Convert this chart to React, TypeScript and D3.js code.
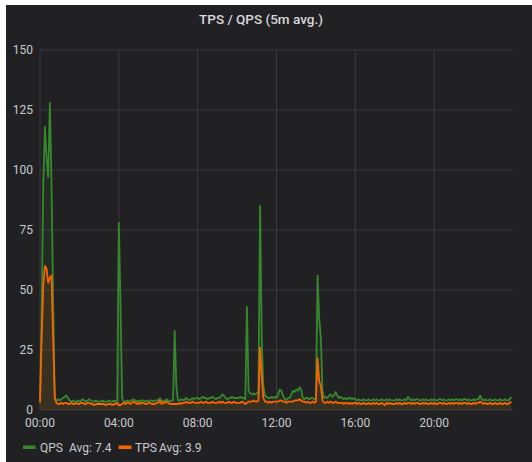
import * as d3 from "d3";

const hourTicks = [0, 4, 8, 12, 16, 20];
const hourLabels = ["00:00", "04:00", "08:00", "12:00", "16:00", "20:00"];
const yTicks = [0, 25, 50, 75, 100, 125, 150];

// 5m samples, one row per hour (00:00 .. 23:55)
const qpsRows = [
  [4, 40, 95, 118, 105, 97, 128, 95, 45, 5, 4, 4.5],
  [4, 4.5, 5, 5.5, 6, 5, 4, 3.5, 4, 3.5, 3.5, 4],
  [3.5, 4, 4.5, 4, 3.5, 4, 4.5, 4, 3.5, 3.5, 4, 3.5],
  [3.5, 3.5, 4, 3.5, 3.5, 3.5, 4, 3.5, 3.5, 4, 3.5, 4],
  [78, 45, 5, 3.5, 3.5, 4, 3.5, 4, 4, 4.5, 4, 3.5],
  [4, 3.5, 4, 4, 3.5, 4, 3.5, 4, 4, 3.5, 4, 4],
  [4, 5, 3.5, 4, 3.5, 4.5, 4, 3.5, 4, 4, 33, 10],
  [4, 4, 4.5, 4, 4.5, 5, 4.5, 4, 4.5, 5, 4.5, 5],
  [5, 4.5, 5, 5.5, 5, 5, 4.5, 5, 5, 5.5, 5, 4.5],
  [5, 5, 5.5, 6.5, 6, 5, 4.5, 5, 5, 5.5, 5, 5],
  [5, 5, 5.5, 5, 5, 4.5, 43, 8, 7, 6.5, 7, 6.5],
  [7, 7.5, 85, 30, 10, 6, 5.5, 5, 5, 5.5, 5, 5.5],
  [5, 6.5, 8.5, 8, 6, 4.5, 4.2, 5, 5, 6.5, 8, 7.5],
  [8.5, 8, 9.5, 8.5, 5, 4.5, 5, 5, 4.5, 5, 5, 4.5],
  [5, 56, 38, 30, 8, 5, 5.5, 5, 6, 6.5, 5.5, 6],
  [7.5, 6, 5, 5.5, 5, 4.5, 5, 4.5, 5, 5, 4.5, 5],
  [4.5, 4, 4.5, 4, 4, 4.5, 4, 4, 4.5, 4, 4, 4.5],
  [4, 4.5, 4, 4, 4.5, 4, 4, 4.5, 4, 4.5, 4, 4],
  [4, 4.5, 4, 4.5, 4, 4, 4.5, 4, 5.5, 4.5, 4, 4.5],
  [4, 4.5, 4.5, 4, 4, 4.5, 4, 4.5, 4, 4, 4.5, 4],
  [4.5, 4, 4, 4.5, 4.5, 4, 4.5, 4, 4, 4.5, 4, 4.5],
  [4, 4.5, 4.5, 4, 4.5, 4, 4.5, 4.5, 4, 4.5, 4, 4],
  [4.5, 4, 4.5, 4.5, 6, 4.5, 4, 4.5, 4, 4, 4.5, 4],
  [4, 4.5, 4, 4, 4.5, 4, 4, 4.5, 4, 4, 4.5, 5.5],
];

const tpsRows = [
  [3, 30, 52, 60, 59, 53, 55, 56, 30, 5, 3, 2.5],
  [2.5, 3, 2.5, 3, 3, 2.5, 2.5, 3, 2.5, 2.5, 3, 2.5],
  [2.5, 3, 3, 2.5, 2.5, 3, 3, 2.5, 2.5, 2, 2.5, 2.5],
  [2.5, 2.5, 2.5, 2.5, 2, 2.5, 2.5, 2.5, 2, 2.5, 2.5, 3],
  [2, 2, 2.5, 3, 2.5, 3, 3, 2.5, 3, 3.5, 3, 2.5],
  [3, 2.5, 3, 3, 2.5, 2.5, 3, 3, 2.5, 2.5, 2.5, 3],
  [3, 4, 2.5, 3, 3, 3.5, 3, 2.5, 2.5, 2.5, 2.5, 2.5],
  [2.5, 3, 2.5, 3, 3, 3.5, 3, 3, 3, 3.5, 3, 3],
  [3, 3, 3.5, 3, 3, 3.5, 3, 3, 3, 3.5, 3, 3],
  [3, 3.5, 3, 3.5, 3, 3, 3, 3.5, 3, 3, 3.5, 3],
  [3, 3, 3, 3.5, 3, 2.5, 3, 3.5, 3.5, 3.5, 4, 3.5],
  [3.5, 4, 26, 14, 5, 3.5, 3.5, 3, 3.5, 3, 3.5, 3.5],
  [3.5, 3.5, 4, 4, 3.5, 3.5, 3, 3.5, 3.5, 3.5, 3.5, 4],
  [4, 4, 4.5, 4, 3.5, 3.5, 3, 3.5, 3, 3, 3.5, 3],
  [3.5, 21.5, 12, 10, 4, 3, 3, 3.5, 3, 3.5, 3, 3],
  [3.5, 3, 3, 3, 3, 2.5, 3, 3, 2.5, 3, 2.5, 3],
  [3, 2.5, 3, 2.5, 2.5, 3, 2.5, 2.5, 3, 2.5, 2.5, 3],
  [2.5, 3, 2.5, 2.5, 3, 2.5, 2, 3, 2.5, 3, 2.5, 2.5],
  [2.5, 3, 2.5, 3, 2.5, 2.5, 3, 2.5, 3, 3, 2.5, 3],
  [2.5, 3, 3, 2.5, 2.5, 3, 2.5, 3, 2.5, 2.5, 3, 2.5],
  [3, 2.5, 2.5, 3, 3, 2.5, 3, 2.5, 2.5, 3, 2.5, 3],
  [2.5, 3, 3, 2.5, 3, 2.5, 3, 3, 2.5, 3, 2.5, 2.5],
  [3, 2.5, 3, 3, 3.5, 3, 2.5, 3, 2.5, 2.5, 3, 2.5],
  [2.5, 3, 2.5, 2.5, 3, 2.5, 2.5, 3, 2.5, 2.5, 3, 3.5],
];

const qps = qpsRows.flat();
const tps = tpsRows.flat();

const W = 532;
const H = 462;
const margin = { left: 40, right: 19, top: 50, bottom: 52 };

const GREEN = "#37872d";
const ORANGE = "#fa6400";
const font = "Roboto, 'Noto Sans', sans-serif";

export default function App() {
  const x = d3.scaleLinear().domain([0, 24]).range([margin.left, W - margin.right]);
  const y = d3.scaleLinear().domain([0, 150]).range([H - margin.bottom, margin.top]);

  const hourOf = (i: number) => (i * 5) / 60;

  const line = d3
    .line<number>()
    .x((_, i) => x(hourOf(i)))
    .y((d) => y(d));
  const area = d3
    .area<number>()
    .x((_, i) => x(hourOf(i)))
    .y0(y(0))
    .y1((d) => y(d));

  const gridColor = "#3a3b3e";
  const tickColor = "#c7c9cc";

  return (
    <div style={{ position: "absolute", left: 0, top: 0 }}>
      <svg width={W} height={H} style={{ display: "block", fontFamily: font }}>
        <rect width={W} height={H} fill="#ffffff" />
        <rect x={6} y={5} width={W - 6} height={H - 5} fill="#212124" />

        <text x={261} y={24} textAnchor="middle" fill="#d8d9da" fontSize={13.5} fontWeight={500}>
          TPS / QPS (5m avg.)
        </text>

        {/* grid */}
        {yTicks.map((t) => (
          <line key={"gy" + t} x1={x(0)} x2={x(24)} y1={y(t)} y2={y(t)} stroke={gridColor} strokeWidth={1} />
        ))}
        {hourTicks.map((t) => (
          <line key={"gx" + t} x1={x(t)} x2={x(t)} y1={y(150)} y2={y(0)} stroke={gridColor} strokeWidth={1} />
        ))}

        {/* y labels */}
        {yTicks.map((t) => (
          <text key={"ly" + t} x={33} y={y(t)} dy="0.35em" textAnchor="end" fill={tickColor} fontSize={12}>
            {t}
          </text>
        ))}
        {/* x labels */}
        {hourTicks.map((t, i) => (
          <text key={"lx" + t} x={x(t)} y={y(0) + 17} textAnchor="middle" fill={tickColor} fontSize={12}>
            {hourLabels[i]}
          </text>
        ))}

        {/* series */}
        <path d={area(qps) ?? ""} fill={GREEN} fillOpacity={0.1} />
        <path d={area(tps) ?? ""} fill={ORANGE} fillOpacity={0.1} />
        <path d={line(qps) ?? ""} fill="none" stroke={GREEN} strokeWidth={1.8} strokeLinejoin="round" />
        <path d={line(tps) ?? ""} fill="none" stroke={ORANGE} strokeWidth={1.8} strokeLinejoin="round" />

        {/* legend */}
        <g fontSize={12} fill={tickColor}>
          <rect x={23} y={445.5} width={12.5} height={3.5} fill={GREEN} />
          <text x={40} y={451.5}>QPS</text>
          <text x={69} y={451.5}>Avg: 7.4</text>
          <rect x={118.5} y={445.5} width={13} height={3.5} fill={ORANGE} />
          <text x={135} y={451.5}>TPS</text>
          <text x={159} y={451.5}>Avg: 3.9</text>
        </g>
      </svg>
    </div>
  );
}
